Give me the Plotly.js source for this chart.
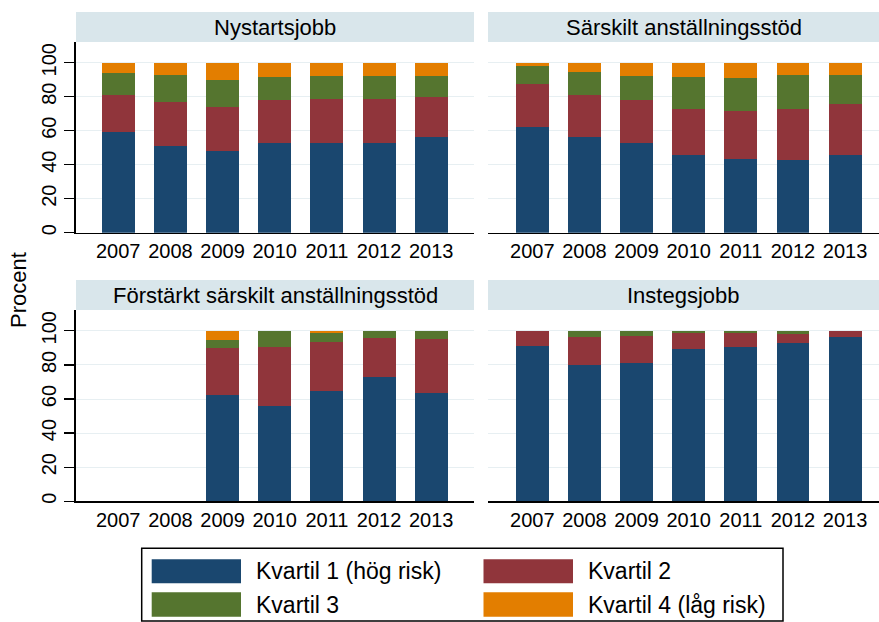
<!DOCTYPE html>
<html>
<head>
<meta charset="utf-8">
<script src="https://cdn.plot.ly/plotly-3.0.1.min.js"></script>
<style>html,body{margin:0;padding:0;background:#fff;}#chart{width:879px;height:622px;}</style>
</head>
<body>
<div id="chart"></div>
<script>
// ---- data ----
const years = ["2007","2008","2009","2010","2011","2012","2013"];
const panelTitles = ["Nystartsjobb","Särskilt anställningsstöd","Förstärkt särskilt anställningsstöd","Instegsjobb"];
const seriesNames = ["Kvartil 1 (hög risk)","Kvartil 2","Kvartil 3","Kvartil 4 (låg risk)"];
const yTicks = [0,20,40,60,80,100];

// Nystartsjobb
const nyK1 = [59.4, 51.2, 48.0, 52.7, 52.7, 52.7, 56.5];
const nyK2 = [21.6, 25.9, 25.7, 25.1, 26.1, 26.1, 23.3];
const nyK3 = [12.7, 15.8, 15.9, 14.0, 13.6, 13.6, 12.6];
const nyK4 = [6.3, 7.1, 10.4, 8.2, 7.6, 7.6, 7.6];
// Särskilt anställningsstöd
const saK1 = [62.4, 56.5, 52.9, 45.7, 43.5, 42.7, 45.7];
const saK2 = [24.9, 24.7, 24.9, 27.0, 28.3, 30.0, 30.2];
const saK3 = [10.9, 13.5, 14.6, 18.7, 19.4, 19.8, 17.0];
const saK4 = [1.8, 5.3, 7.6, 8.6, 8.8, 7.5, 7.1];
// Förstärkt särskilt anställningsstöd
const fsK1 = [null, null, 62.5, 56.1, 64.8, 72.7, 63.7];
const fsK2 = [null, null, 27.7, 34.5, 28.8, 23.0, 31.4];
const fsK3 = [null, null, 4.5, 9.2, 5.2, 4.0, 4.9];
const fsK4 = [null, null, 5.3, 0.2, 1.2, 0.3, 0.0];
// Instegsjobb
const isK1 = [91.2, 79.9, 81.3, 89.3, 90.6, 93.0, 96.5];
const isK2 = [8.6, 16.6, 15.8, 9.5, 8.2, 5.4, 3.4];
const isK3 = [0.1, 3.5, 2.9, 1.2, 1.2, 1.2, 0.1];
const isK4 = [0.1, 0.0, 0.0, 0.0, 0.0, 0.4, 0.0];

const colors = ["#1a476f","#90353b","#55752f","#e37e00"];
const panelData = [
  [nyK1, nyK2, nyK3, nyK4],
  [saK1, saK2, saK3, saK4],
  [fsK1, fsK2, fsK3, fsK4],
  [isK1, isK2, isK3, isK4]
];

// ---- geometry (pixels) ----
const W = 879, H = 622;
const font = "Liberation Sans, Arial, sans-serif";
const colPx = [[76, 474], [488, 879]];
const rowPx = [[42, 232.7], [310, 501.3]];
const stripH = 30;
const xRanges = [[-0.81, 6.82], [-0.85, 6.65]];
const px = v => v / W;
const py = v => 1 - v / H;

const traces = [];
const layout = {
  width: W, height: H, autosize: false,
  margin: {l: 0, r: 0, t: 0, b: 0, pad: 0},
  paper_bgcolor: "#ffffff", plot_bgcolor: "#ffffff",
  barmode: "stack", bargap: 0.37,
  showlegend: false,
  font: {family: font, size: 20, color: "#000"},
  shapes: [], annotations: []
};

panelData.forEach((series, p) => {
  const r = Math.floor(p / 2), c = p % 2;
  const ax = p === 0 ? "" : String(p + 1);
  series.forEach((vals, s) => {
    traces.push({
      type: "bar", x: years, y: vals, name: seriesNames[s],
      marker: {color: colors[s], line: {width: 0}},
      xaxis: "x" + ax, yaxis: "y" + ax, width: 0.63,
      hoverinfo: "skip"
    });
  });
  layout["xaxis" + ax] = {
    domain: [px(colPx[c][0]), px(colPx[c][1])],
    anchor: "y" + ax, type: "category", range: xRanges[c],
    showline: true, linecolor: "#000", linewidth: 1.6,
    ticks: "", showgrid: false, zeroline: false,
    tickfont: {family: font, size: 20, color: "#000"},
    ticklabelstandoff: 0, fixedrange: true
  };
  layout["yaxis" + ax] = {
    domain: [py(rowPx[r][1]), py(rowPx[r][0])],
    anchor: "x" + ax, range: [0, 112.2],
    tickvals: yTicks, ticktext: yTicks.map(String),
    showgrid: true, gridcolor: "#e7eff2", gridwidth: 1,
    zeroline: false,
    showline: c === 0, linecolor: "#000", linewidth: 1.6,
    ticks: c === 0 ? "outside" : "", ticklen: 10, tickwidth: 1.4, tickcolor: "#000",
    showticklabels: c === 0, tickangle: -90,
    tickfont: {family: font, size: 20, color: "#000"},
    ticklabelstandoff: 0, fixedrange: true
  };
  // strip
  layout.shapes.push({
    type: "rect", xref: "paper", yref: "paper",
    x0: px(colPx[c][0]), x1: px(colPx[c][1]),
    y0: py(rowPx[r][0]), y1: py(rowPx[r][0] - stripH),
    fillcolor: "#d9e6eb", line: {width: 0}, layer: "below"
  });
  layout.annotations.push({
    xref: "paper", yref: "paper",
    x: px((colPx[c][0] + colPx[c][1]) / 2), y: py(rowPx[r][0] - stripH / 2),
    text: panelTitles[p], showarrow: false, xanchor: "center", yanchor: "middle",
    font: {family: font, size: 22, color: "#000"}
  });
});

// y title
layout.annotations.push({
  xref: "paper", yref: "paper", x: px(18), y: py(290),
  text: "Procent", textangle: -90, showarrow: false,
  xanchor: "center", yanchor: "middle",
  font: {family: font, size: 22, color: "#000"}
});

// legend (drawn manually so swatches match the reference size)
layout.shapes.push({
  type: "rect", xref: "paper", yref: "paper",
  x0: px(141.7), x1: px(783), y0: py(621), y1: py(548.3),
  line: {color: "#000", width: 1.5}, fillcolor: "rgba(0,0,0,0)"
});
const legCols = [[151.7, 241, 254], [483.5, 573, 586]];
const legRows = [[559.3, 583.3], [592.3, 616.7]];
seriesNames.forEach((nm, i) => {
  const lc = legCols[i % 2], lr = legRows[Math.floor(i / 2)];
  layout.shapes.push({
    type: "rect", xref: "paper", yref: "paper",
    x0: px(lc[0]), x1: px(lc[1]), y0: py(lr[1]), y1: py(lr[0]),
    fillcolor: colors[i], line: {width: 0}
  });
  layout.annotations.push({
    xref: "paper", yref: "paper", x: px(lc[2]), y: py((lr[0] + lr[1]) / 2),
    text: nm, showarrow: false, xanchor: "left", yanchor: "middle",
    font: {family: font, size: 23, color: "#000"}
  });
});

Plotly.newPlot("chart", traces, layout, {staticPlot: true, displayModeBar: false});
</script>
</body>
</html>
